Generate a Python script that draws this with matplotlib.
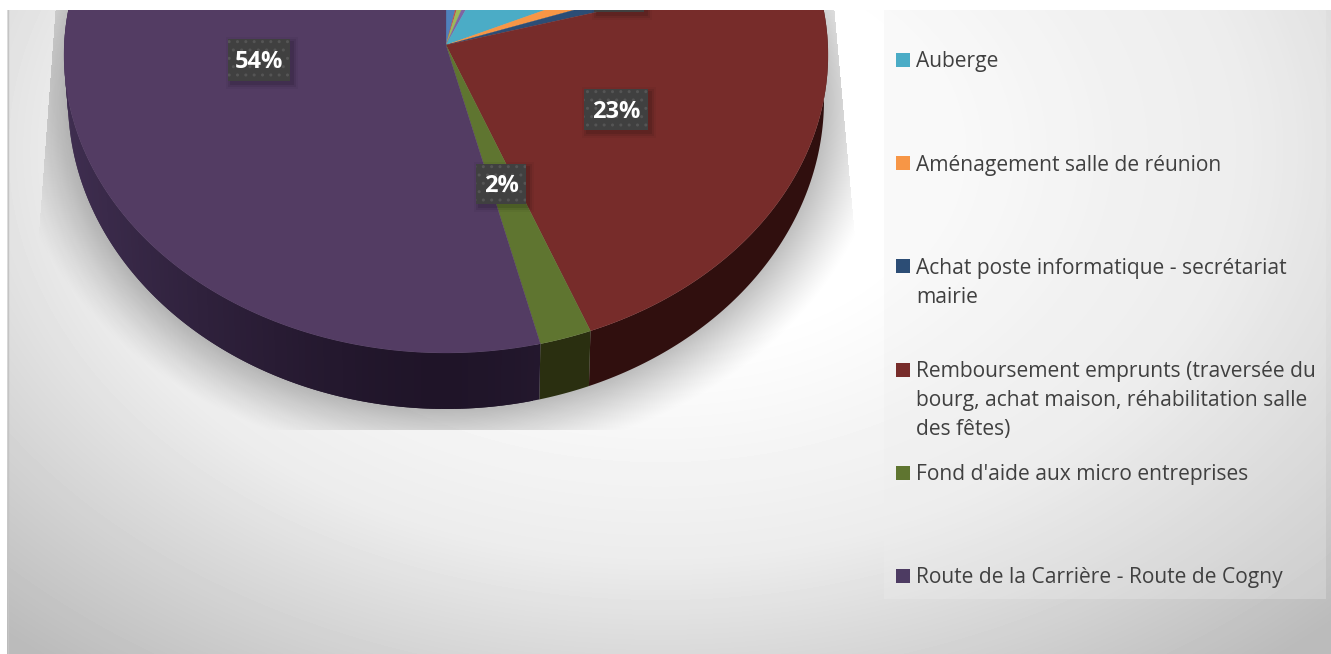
import numpy as np
import matplotlib
matplotlib.use("Agg")
import matplotlib.pyplot as plt
from matplotlib.colors import to_rgb
from matplotlib.patches import Rectangle

# Pie data, clockwise from the top (the top of the chart is cut off in the source)
shares = [3.1, 0.5, 1.5, 1.25, 11.4, 1.4, 1.0, 23.7, 2.2, 54.0]
top_colors = ["#4f81bd", "#c0504d", "#9bbb59", "#8064a2", "#4bacc6",
              "#f79646", "#2c4d75", "#772c2a", "#5f7530", "#533c63"]
side_colors = ["#27405e", "#602826", "#4d5d2c", "#403251", "#265663",
               "#7c4b23", "#16263a", "#300f0e", "#2a2f10", "#1f1428"]

legend_names = ["Auberge", "Aménagement salle de réunion",
                "Achat poste informatique - secrétariat\nmairie",
                "Remboursement emprunts (traversée du\nbourg, achat maison, réhabilitation salle\ndes fêtes)",
                "Fond d'aide aux micro entreprises",
                "Route de la Carrière - Route de Cogny"]
legend_colors = ["#4bacc6", "#f79646", "#2c4d75", "#772c2a", "#5f7530", "#4d3b62"]

label_texts = ["54%", "23%", "2%"]
label_boxes = [(228, 39, 62, 42), (584, 89, 64, 41), (476, 164, 50, 40)]

W, H = 1331, 654
fig = plt.figure(figsize=(W / 100, H / 100), dpi=100, facecolor="white")
ax = fig.add_axes([7 / W, 0, (W - 7) / W, (H - 10) / H])
ax.axis("off")

# background gradient
xx, yy = np.meshgrid(np.arange(7, W), np.arange(10, H))
d = np.hypot((xx - 660) / 1.45, yy - 150)
bg = np.interp(d, [0, 200, 300, 410, 490, 660], [255, 254, 245, 236, 220, 187]) / 255
ax.imshow(bg, cmap="gray", vmin=0, vmax=1, extent=(7, W, H, 10), aspect="auto", zorder=0)

# shadow under the pie
r = np.hypot((xx - 446) / 378, (yy - 100) / 309)
left_edge = 55 - (yy - 10) * 17 / 230
right_edge = 834 + (yy - 10) * 20 / 220
mask = (xx > left_edge) & (xx < right_edge) & (yy < 430)
alpha = 0.25 * np.clip((1.17 - r) / 0.17, 0, 1) ** 1.2 * mask
shadow = np.zeros(xx.shape + (4,))
shadow[..., 3] = alpha
ax.imshow(shadow, extent=(7, W, H, 10), aspect="auto", zorder=1)


def top_rim(deg):
    t = np.radians(deg)
    return 446 + 382 * np.sin(t), 55 - 298 * np.cos(t)


def low_rim(deg):
    t = np.radians(deg)
    return 446 + 378 * np.sin(t), 100 - 309 * np.cos(t)


edges = np.concatenate([[0], np.cumsum(shares)]) / np.sum(shares) * 360

# side wall first, top face over it
for i in range(len(shares) - 1):
    angles = np.linspace(edges[i], edges[i + 1], 100)
    x1, y1 = top_rim(angles)
    x2, y2 = low_rim(angles[::-1])
    ax.fill(np.r_[x1, x2], np.r_[y1, y2], color=side_colors[i], lw=0, zorder=2)

# the long purple wall gets lighter toward the left, one overlapping step per degree
dark, light = np.array(to_rgb("#1f1428")), np.array(to_rgb("#3f2e50"))
for a in np.arange(edges[-2], 360, 1.0):
    b = min(a + 2.0, 360)
    k = abs(np.sin(np.radians(a))) ** 1.5
    x1, y1 = top_rim(np.array([a, b]))
    x2, y2 = low_rim(np.array([b, a]))
    ax.fill(np.r_[x1, x2], np.r_[y1, y2], color=dark * (1 - k) + light * k, lw=0, zorder=2)

for i in range(len(shares)):
    angles = np.linspace(edges[i], edges[i + 1], 200)
    x, y = top_rim(angles)
    ax.fill(np.r_[446, x], np.r_[45, y], color=top_colors[i], lw=0.2, zorder=3)

# data labels, the fourth one is cut off by the top of the chart
for box in label_boxes + [(594, -28, 50, 40)]:
    x, y, w, h = box
    for grow, a in [(5, 0.04), (3, 0.07), (1, 0.1)]:
        ax.add_patch(Rectangle((x + 3 - grow, y + 3 - grow), w + 2 * grow, h + 2 * grow,
                               color="black", alpha=a, lw=0, zorder=4))
    ax.add_patch(Rectangle((x, y), w, h, facecolor="#404040", lw=0, zorder=5))
    ax.add_patch(Rectangle((x, y), w, h, facecolor="none", edgecolor="#555555", hatch="..", lw=0, zorder=5))

for text, box in zip(label_texts, label_boxes):
    x, y, w, h = box
    ax.text(x + w / 2, y + h / 2 + 2, text, color="white", fontsize=17, fontweight="bold",
            family="Open Sans", ha="center", va="center", zorder=6)

# legend
ax.add_patch(Rectangle((884, 10), 442, 589, color="#eeeeee", alpha=0.3, lw=0, zorder=2))
for i, name in enumerate(legend_names):
    y = 60 + 103.2 * i
    ax.add_patch(Rectangle((896, y - 7), 14, 14, color=legend_colors[i], lw=0, zorder=3))
    for j, line in enumerate(name.split("\n")):
        ax.text(916, y + 2 + j * 29, line, color="#404040", fontsize=15.15, family="Open Sans",
                ha="left", va="center", zorder=3)

# thin border on the left side of the chart
ax.plot([7.5, 7.5], [10, H], color="#c4c4c4", lw=1, zorder=7)

ax.set_xlim(7, W)
ax.set_ylim(H, 10)
fig.savefig("out.png", dpi=100, facecolor="white")
